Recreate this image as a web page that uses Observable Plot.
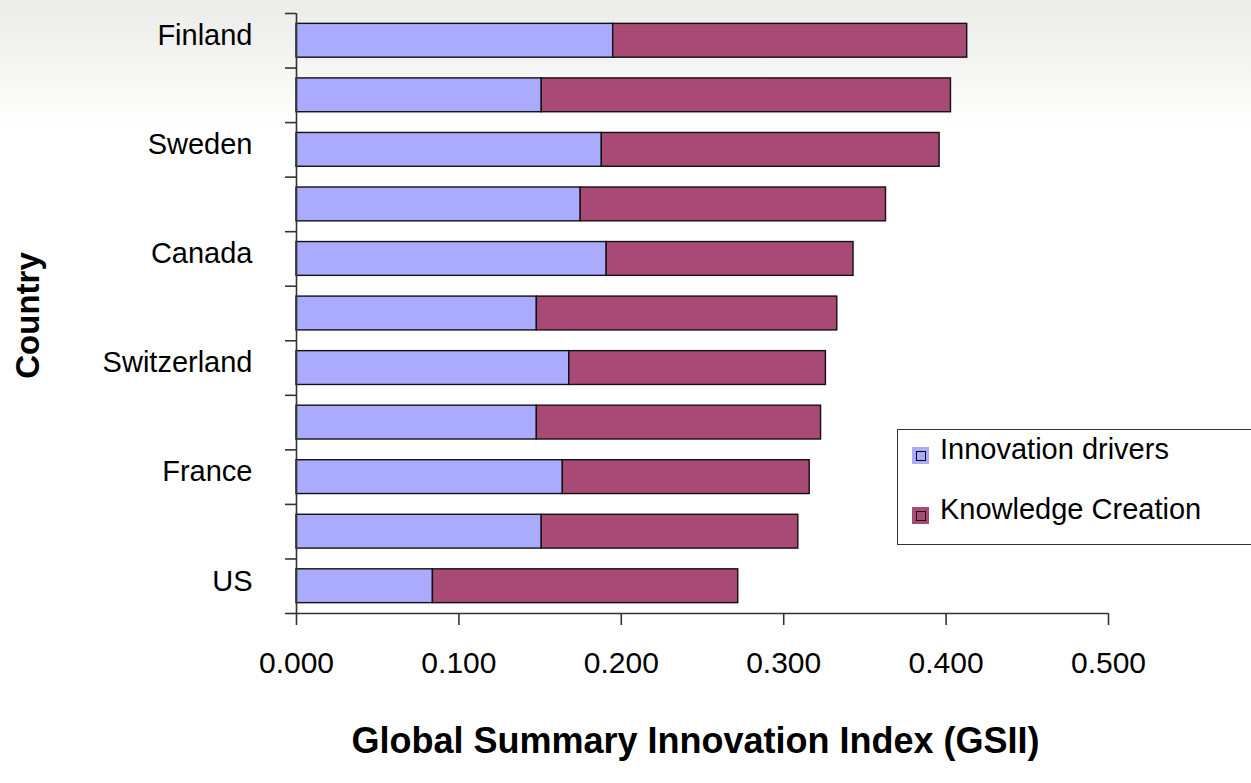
<!DOCTYPE html>
<html>
<head>
<meta charset="utf-8">
<script src="https://cdn.jsdelivr.net/npm/d3@7"></script>
<script src="https://cdn.jsdelivr.net/npm/@observablehq/plot@0.6"></script>
<style>
  html, body { margin: 0; padding: 0; }
  body {
    width: 1251px; height: 783px; overflow: hidden; position: relative;
    background: linear-gradient(to bottom, #ececea 0px, #f3f3f1 55px, #fafaf9 95px, #ffffff 130px);
    font-family: "Liberation Sans", Arial, sans-serif;
  }
  #chart svg { background: transparent !important; }
  #legend {
    position: absolute; left: 897px; top: 429px; width: 370px; height: 116px;
    border: 1.5px solid #333; background: #fff; box-sizing: border-box;
  }
  .item { position: absolute; left: 14px; height: 30px; }
  .swatch {
    position: absolute; left: 0; width: 17px; height: 17px; box-sizing: border-box;
    display: flex; align-items: center; justify-content: center;
  }
  .swatch span { display: block; width: 10px; height: 10px; border: 1.5px solid #000; box-sizing: border-box; }
  .lab { position: absolute; left: 28px; font-size: 29px; color: #000; white-space: nowrap; line-height: 1; }
</style>
</head>
<body>
<div id="chart"></div>
<div id="legend"></div>
<script>
// ---- data (top to bottom) ----
const labels    = ["Finland", "", "Sweden", "", "Canada", "", "Switzerland", "", "France", "", "US"];
const drivers   = [0.195, 0.151, 0.188, 0.175, 0.191, 0.148, 0.168, 0.148, 0.164, 0.151, 0.084];
const knowledge = [0.218, 0.252, 0.208, 0.188, 0.152, 0.185, 0.158, 0.175, 0.152, 0.158, 0.188];
const seriesNames  = ["Innovation drivers", "Knowledge Creation"];
const seriesColors = ["#AAAAFF", "#A94A76"];
const xTicks = [0, 0.1, 0.2, 0.3, 0.4, 0.5];
const xTitle = "Global Summary Innovation Index (GSII)";
const yTitle = "Country";

// ---- table built from the arrays ----
const pad = 0.19;
const rows = [];
labels.forEach((name, i) => {
  rows.push({i, series: seriesNames[0], x1: 0, x2: drivers[i]});
  rows.push({i, series: seriesNames[1], x1: drivers[i], x2: drivers[i] + knowledge[i]});
});
const named = labels.map((name, i) => ({i, name})).filter(d => d.name);

const plot = Plot.plot({
  width: 1251,
  height: 783,
  marginLeft: 296,
  marginRight: 143,
  marginTop: 13,
  marginBottom: 170,
  style: {background: "transparent", fontFamily: "'Liberation Sans', Arial, sans-serif", fontSize: "30px", color: "#000", overflow: "visible"},
  x: {domain: [0, 0.5]},
  y: {domain: [0, labels.length], reverse: true},
  color: {domain: seriesNames, range: seriesColors},
  marks: [
    Plot.rect(rows, {
      x1: "x1", x2: "x2",
      y1: d => d.i + pad, y2: d => d.i + 1 - pad,
      fill: "series", stroke: "#111", strokeWidth: 1.4
    }),
    Plot.ruleX([0], {stroke: "#333", strokeWidth: 1.6}),
    Plot.ruleY([labels.length], {stroke: "#333", strokeWidth: 1.6}),
    Plot.axisY({ticks: d3.range(labels.length + 1), tickSize: 11, tickFormat: () => "", stroke: "#333", strokeWidth: 1.6}),
    Plot.axisX({ticks: xTicks, tickSize: 12, tickPadding: 26, tickFormat: d3.format(".3f"), stroke: "#333", strokeWidth: 1.6, label: null}),
    Plot.text(named, {x: 0, y: d => d.i + 0.5, text: "name", textAnchor: "end", dx: -44, dy: -5, fontSize: 29, fill: "#000"}),
    Plot.text([xTitle], {frameAnchor: "bottom", dy: 139, dx: -7, fontSize: 36, fontWeight: "bold", fill: "#000"}),
    Plot.text([yTitle], {frameAnchor: "left", textAnchor: "middle", rotate: -90, dx: -268, dy: 2, fontSize: 33, fontWeight: "bold", fill: "#000"})
  ]
});
document.getElementById("chart").appendChild(plot);

// ---- legend ----
const legend = document.getElementById("legend");
seriesNames.forEach((name, k) => {
  const item = document.createElement("div");
  item.className = "item";
  item.style.top = (k === 0 ? 17 : 77) + "px";
  const sw = document.createElement("div");
  sw.className = "swatch";
  sw.style.background = seriesColors[k];
  sw.style.top = "0px";
  sw.appendChild(document.createElement("span"));
  const lab = document.createElement("div");
  lab.className = "lab";
  lab.style.top = "-12px";
  lab.textContent = name;
  item.appendChild(sw);
  item.appendChild(lab);
  legend.appendChild(item);
});
</script>
</body>
</html>
